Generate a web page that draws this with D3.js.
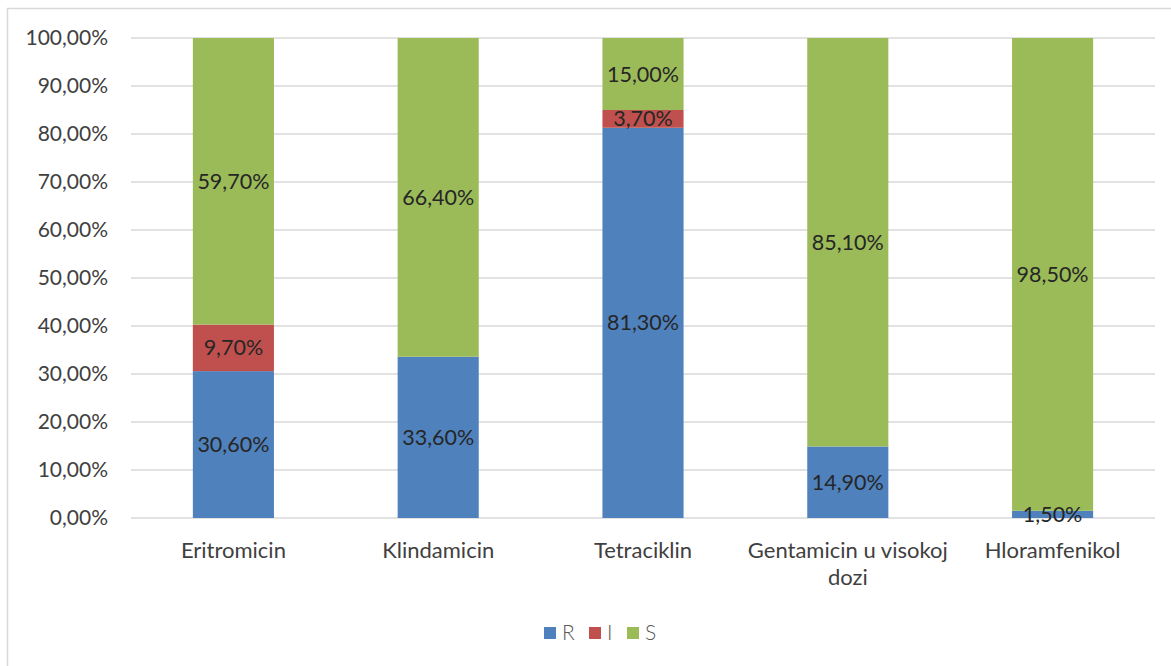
<!DOCTYPE html>
<html>
<head>
<meta charset="utf-8">
<script src="https://cdn.jsdelivr.net/npm/d3@7"></script>
<style>
  html, body { margin: 0; padding: 0; background: #fff; }
  svg { display: block; }
</style>
</head>
<body>
<svg id="chart" width="1171" height="666"></svg>
<script>
// Antibiotic susceptibility: share of R / I / S isolates per antibiotic
const categories = ["Eritromicin", "Klindamicin", "Tetraciklin", "Gentamicin u visokoj dozi", "Hloramfenikol"];
const seriesNames = ["R", "I", "S"];
const valuesR = [30.6, 33.6, 81.3, 14.9, 1.5];
const valuesI = [9.7, 0, 3.7, 0, 0];
const valuesS = [59.7, 66.4, 15.0, 85.1, 98.5];
const tickValues = [0, 10, 20, 30, 40, 50, 60, 70, 80, 90, 100];
const colors = ["#4F81BD", "#C0504D", "#9BBB59"];

const fmt = v => v.toFixed(2).replace(".", ",") + "%";

const svg = d3.select("#chart");
const W = 1171, H = 666;
const margin = { left: 131, right: 16, top: 38, bottom: 148 };
const font = "Lato, 'Open Sans', 'Noto Sans', sans-serif";
const fs = 21;

// outer chart frame
svg.append("rect")
  .attr("x", 7.5).attr("y", 8.5)
  .attr("width", W).attr("height", H)
  .attr("fill", "#fff").attr("stroke", "#D9D9D9").attr("stroke-width", 1.5);

const rows = categories.map((c, i) => ({ cat: c, R: valuesR[i], I: valuesI[i], S: valuesS[i] }));
const stacked = d3.stack().keys(seriesNames)(rows);

const x = d3.scaleBand().domain(categories)
  .range([margin.left, W - margin.right])
  .paddingInner(0.604).paddingOuter(0.302);
const y = d3.scaleLinear().domain([0, 100]).range([H - margin.bottom, margin.top]);

// gridlines
svg.append("g").selectAll("line").data(tickValues).join("line")
  .attr("x1", margin.left).attr("x2", W - margin.right)
  .attr("y1", d => y(d)).attr("y2", d => y(d))
  .attr("stroke", "#D9D9D9").attr("stroke-width", 1.3);

// y axis labels
const yAxis = d3.axisLeft(y).tickValues(tickValues).tickFormat(fmt).tickSize(0).tickPadding(23);
const gy = svg.append("g").attr("transform", `translate(${margin.left},0)`).call(yAxis);
gy.select(".domain").remove();
gy.selectAll("text").attr("font-family", font).attr("font-size", fs).attr("fill", "#404040");

// stacked bars
const layers = svg.append("g").selectAll("g").data(stacked).join("g")
  .attr("fill", (d, i) => colors[i]);
layers.selectAll("rect").data(d => d.map(p => ({ p, key: d.key }))).join("rect")
  .attr("x", d => x(d.p.data.cat))
  .attr("width", x.bandwidth())
  .attr("y", d => y(d.p[1]))
  .attr("height", d => y(d.p[0]) - y(d.p[1]));

// data labels centred in each non-empty segment
const labels = [];
stacked.forEach(s => s.forEach(p => {
  const v = p[1] - p[0];
  if (v > 0) labels.push({ cat: p.data.cat, mid: (p[0] + p[1]) / 2, v });
}));
svg.append("g").selectAll("text").data(labels).join("text")
  .attr("x", d => x(d.cat) + x.bandwidth() / 2)
  .attr("y", d => y(d.mid))
  .attr("dy", "0.35em")
  .attr("text-anchor", "middle")
  .attr("font-family", font).attr("font-size", 21.5).attr("fill", "#262626")
  .text(d => fmt(d.v));

// category labels (wrapped to band width)
const xAxis = d3.axisBottom(x).tickSize(0).tickPadding(0);
const gx = svg.append("g").attr("transform", `translate(0,${H - margin.bottom})`).call(xAxis);
gx.select(".domain").remove();
gx.selectAll("text").each(function(d) {
  const t = d3.select(this);
  t.text(null).attr("font-family", font).attr("font-size", 22).attr("fill", "#404040").attr("y", 40).attr("dy", 0);
  const lines = d === "Gentamicin u visokoj dozi" ? ["Gentamicin u visokoj", "dozi"] : [d];
  lines.forEach((ln, i) => t.append("tspan").attr("x", 0).attr("dy", i === 0 ? 0 : 27).text(ln));
});

// legend
const legendX = [544, 589, 627];
const lg = svg.append("g").selectAll("g").data(seriesNames).join("g")
  .attr("transform", (d, i) => `translate(${legendX[i]},627)`);
lg.append("rect").attr("width", 12).attr("height", 12).attr("fill", (d, i) => colors[i]);
lg.append("text").attr("x", 18).attr("y", 6).attr("dy", "0.35em")
  .attr("font-family", font).attr("font-size", fs).attr("font-weight", 300).attr("fill", "#595959").text(d => d);
</script>
</body>
</html>
